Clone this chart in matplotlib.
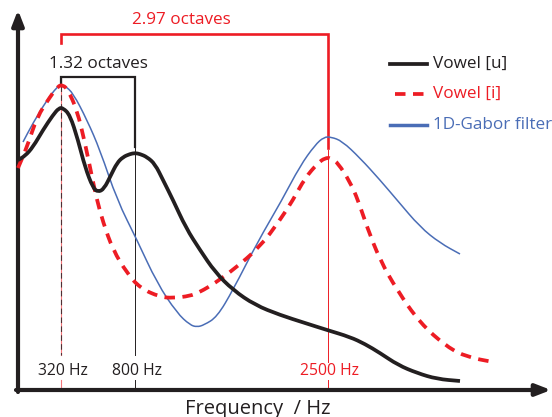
import numpy as np
import matplotlib.pyplot as plt
from matplotlib.path import Path
from matplotlib.patches import PathPatch

plt.rcParams['font.family'] = ['Open Sans', 'DejaVu Sans']

RED = '#ED1C24'
BLUE = '#4A6DB6'
BLACK = '#231F20'

# curves (x along frequency, y = height, picture units, top = 0)
u_x = [18, 25, 33, 43, 53, 59, 63, 70, 78, 85, 93, 98, 104, 111, 117, 123, 130, 135,
       140, 147, 155, 163, 173, 186, 200, 215, 233, 255, 280, 305, 327, 350, 365, 380,
       398, 417, 437, 460]
u_y = [160, 156, 147, 130, 115, 108, 108, 115, 140, 167, 188, 192, 189, 175, 163, 157, 154, 153,
       154, 157, 164, 180, 200, 228, 250, 272, 290, 305, 315, 323, 330, 337, 344, 353,
       365, 373, 379, 381]

i_x = [18, 27, 37, 50, 58, 63, 68, 77, 85, 92, 97, 103, 113, 127, 140, 160, 173, 190,
       200, 215, 233, 260, 280, 293, 305, 318, 325, 331, 338, 350, 358, 367, 380, 397,
       420, 447, 467, 493]
i_y = [168, 147, 117, 97, 86, 85, 90, 110, 143, 177, 200, 222, 250, 273, 288, 297, 298, 296,
       292, 283, 270, 247, 220, 200, 178, 163, 158, 158, 163, 182, 200, 227, 260, 290,
       323, 347, 357, 362]

g_x = [23, 33, 47, 57, 61, 65, 73, 87, 100, 117, 137, 157, 177, 190, 197, 204, 217, 233,
       257, 282, 300, 315, 324, 331, 342, 360, 380, 397, 420, 440, 460]
g_y = [142, 123, 100, 87, 85, 86, 93, 120, 150, 200, 240, 283, 313, 325, 327, 325, 317, 290,
       243, 200, 166, 145, 137, 137, 141, 158, 180, 200, 227, 243, 254]

marker_x = [61, 135, 328]
marker_labels = ['320 Hz', '800 Hz', '2500 Hz']
octave_labels = ['1.32 octaves', '2.97 octaves']


def smooth_path(xs, ys):
    # quadratic bezier through midpoints, so the line has no corners
    pts = np.column_stack([xs, ys]).astype(float)
    verts = [pts[0], (pts[0] + pts[1]) / 2]
    codes = [Path.MOVETO, Path.LINETO]
    for k in range(1, len(pts) - 1):
        verts += [pts[k], (pts[k] + pts[k + 1]) / 2]
        codes += [Path.CURVE3, Path.CURVE3]
    verts.append(pts[-1])
    codes.append(Path.LINETO)
    return Path(verts, codes)


fig = plt.figure(figsize=(5.52, 4.17), dpi=100)
ax = fig.add_axes([0, 0, 1, 1])
ax.set_xlim(0, 552)
ax.set_ylim(417, 0)
ax.axis('off')

# vertical guide lines
ax.plot([marker_x[0]] * 2, [77, 355], color=RED, lw=0.8, alpha=0.6)
ax.plot([marker_x[0]] * 2, [77, 355], color=BLACK, lw=0.8, ls=(0, (5, 3)), alpha=0.8)
ax.plot([marker_x[0]] * 2, [380, 390], color=RED, lw=0.8, alpha=0.6)
ax.plot([marker_x[1]] * 2, [147, 355], color=BLACK, lw=0.7)
ax.plot([marker_x[1]] * 2, [380, 390], color=BLACK, lw=0.7)
ax.plot([marker_x[2]] * 2, [150, 362], color=RED, lw=0.7)
ax.plot([marker_x[2]] * 2, [380, 390], color=RED, lw=0.7)

# curves
ax.add_patch(PathPatch(smooth_path(g_x, g_y), fill=False, edgecolor=BLUE, lw=1.1, zorder=3))
ax.add_patch(PathPatch(smooth_path(i_x, i_y), fill=False, edgecolor=RED, lw=2.7,
                       ls=(0, (2.8, 2.0)), zorder=4))
ax.add_patch(PathPatch(smooth_path(u_x, u_y), fill=False, edgecolor=BLACK, lw=2.7,
                       joinstyle='round', capstyle='butt', zorder=5))

# octave brackets
ax.plot([marker_x[0], marker_x[0], marker_x[2], marker_x[2]], [43, 34, 34, 148],
        color=RED, lw=1.9, solid_joinstyle='miter')
ax.plot([marker_x[0], marker_x[0], marker_x[1], marker_x[1]], [85, 77, 77, 147],
        color=BLACK, lw=1.6, solid_joinstyle='miter')
ax.text(181, 20, octave_labels[1], color=RED, fontsize=12.3, ha='center', va='center')
ax.text(98, 64, octave_labels[0], color=BLACK, fontsize=12.3, ha='center', va='center')

# frequency labels
for xv, lab, c in zip(marker_x, marker_labels, [BLACK, BLACK, RED]):
    ax.text(xv + 2, 371, lab, color=c, fontsize=11.3, ha='center', va='center')

# axes with arrows
ax.annotate('', xy=(18, 10), xytext=(18, 392),
            arrowprops=dict(arrowstyle='-|>,head_length=0.9,head_width=0.35',
                            lw=3, color=BLACK, shrinkA=0, shrinkB=0))
ax.annotate('', xy=(551, 390), xytext=(16, 390),
            arrowprops=dict(arrowstyle='-|>,head_length=0.9,head_width=0.35',
                            lw=3, color=BLACK, shrinkA=0, shrinkB=0))
ax.text(258, 409, 'Frequency  / Hz', color=BLACK, fontsize=14.5, ha='center', va='center')

# legend
ax.plot([390, 427], [64, 64], color=BLACK, lw=2.7)
ax.plot([395, 427], [94, 94], color=RED, lw=2.7, ls=(0, (2.8, 2.0)))
ax.plot([390, 427], [125, 125], color=BLUE, lw=2.5)
ax.text(433, 64, 'Vowel [u]', color=BLACK, fontsize=12.3, va='center')
ax.text(433, 94, 'Vowel [i]', color=RED, fontsize=12.3, va='center')
ax.text(433, 125, '1D-Gabor filter', color=BLUE, fontsize=12.3, va='center')

fig.savefig('out.png', dpi=100)
